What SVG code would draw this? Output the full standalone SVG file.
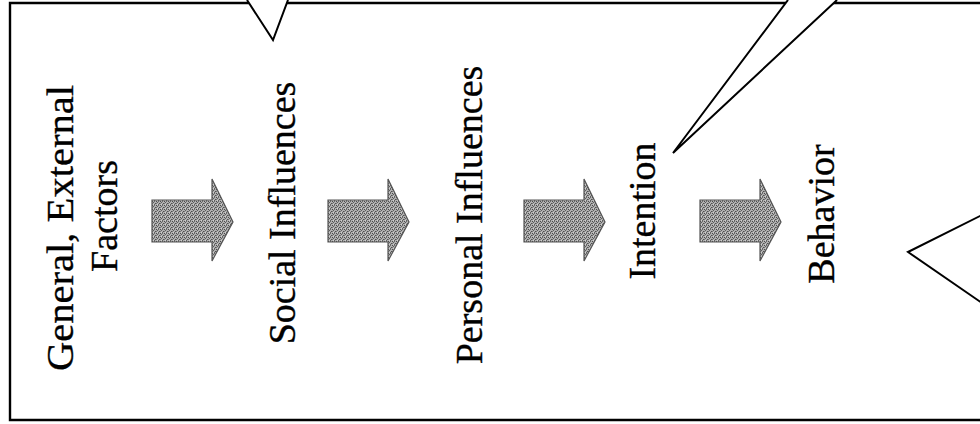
<svg xmlns="http://www.w3.org/2000/svg" width="980" height="424" viewBox="0 0 980 424">
  <style>
    .lbl { font-family: "Liberation Serif", "Times New Roman", serif; font-size: 38px; fill: #000; stroke: #000; stroke-width: 0.35; text-anchor: middle; }
    .frame { fill: none; stroke: #000; stroke-width: 2.4; }
    .callout { fill: #fff; stroke: #000; stroke-width: 2; stroke-linejoin: miter; }
    .arrow { fill: url(#stipple); stroke: #555; stroke-width: 1.2; }
  </style>
  <defs>
    <pattern id="stipple" width="4" height="4" patternUnits="userSpaceOnUse">
      <rect width="4" height="4" fill="#b0b0b0"/>
      <rect x="0" y="0" width="1" height="1" fill="#4a4a4a"/>
      <rect x="2" y="0" width="1" height="1" fill="#6a6a6a"/>
      <rect x="1" y="1" width="1" height="1" fill="#5c5c5c"/>
      <rect x="3" y="2" width="1" height="1" fill="#4f4f4f"/>
      <rect x="0" y="2" width="1" height="1" fill="#777"/>
      <rect x="2" y="3" width="1" height="1" fill="#606060"/>
      <rect x="1" y="3" width="1" height="1" fill="#d0d0d0"/>
    </pattern>
    <path id="blockArrow" d="M0,19 H60 V-2 L81,41 L60,80 V61 H0 Z"/>
  </defs>
  <rect width="980" height="424" fill="#fff"/>
  <g id="frame">
    <path class="frame" d="M982,3 H10 V420 H982"/>
  </g>
  <g id="callouts">
    <polyline class="callout" points="247,0 273,40 288,0"/>
    <polyline class="callout" points="788,0 673,153 837,0"/>
    <polyline class="callout" points="982,215 908,252 982,303"/>
  </g>
  <g id="node-general">
    <text class="lbl" transform="translate(73,228) rotate(-90)" textLength="286" lengthAdjust="spacingAndGlyphs">General, External</text>
    <text class="lbl" transform="translate(117,216) rotate(-90)">Factors</text>
  </g>
  <g id="node-social">
    <text class="lbl" transform="translate(295,213) rotate(-90)">Social Influences</text>
  </g>
  <g id="node-personal">
    <text class="lbl" transform="translate(482,215) rotate(-90)">Personal Influences</text>
  </g>
  <g id="node-intention">
    <text class="lbl" transform="translate(655,211) rotate(-90)">Intention</text>
  </g>
  <g id="node-behavior">
    <text class="lbl" transform="translate(834,214) rotate(-90)">Behavior</text>
  </g>
  <g id="connectors">
    <use href="#blockArrow" class="arrow" x="152" y="181"/>
    <use href="#blockArrow" class="arrow" x="328" y="181"/>
    <use href="#blockArrow" class="arrow" x="524" y="181"/>
    <use href="#blockArrow" class="arrow" x="700" y="181"/>
  </g>
</svg>
